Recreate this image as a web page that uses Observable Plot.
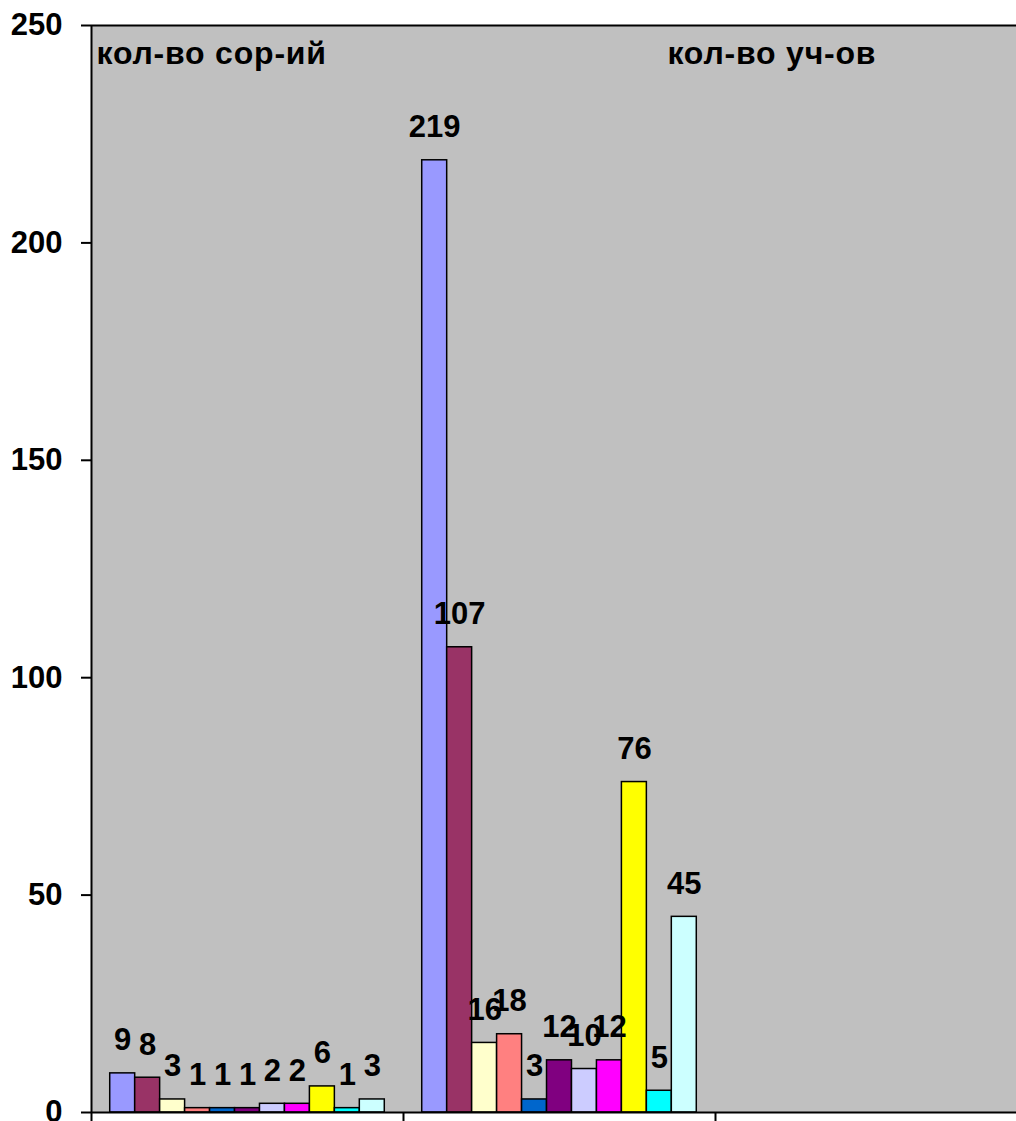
<!DOCTYPE html>
<html>
<head>
<meta charset="utf-8">
<script src="https://cdn.jsdelivr.net/npm/d3@7"></script>
<script src="https://cdn.jsdelivr.net/npm/@observablehq/plot@0.6"></script>
<style>
  html, body { margin: 0; padding: 0; background: #ffffff; overflow: hidden; }
  #chart svg { display: block; }
</style>
</head>
<body>
<div id="chart"></div>
<script>
// Groups (category slots on the x axis; the third is empty in the original)
const groups = ["кол-во сор-ий", "кол-во уч-ов", ""];
// Series (11 bars per group) and their colours
const series = ["1", "2", "3", "4", "5", "6", "7", "8", "9", "10", "11"];
const seriesColors = ["#9999FF", "#993366", "#FFFFCC", "#FF8080", "#0066CC", "#800080",
                      "#CCCCFF", "#FF00FF", "#FFFF00", "#00FFFF", "#CCFFFF"];
// Values per group
const valuesGroup1 = [9, 8, 3, 1, 1, 1, 2, 2, 6, 1, 3];
const valuesGroup2 = [219, 107, 16, 18, 3, 12, 10, 12, 76, 5, 45];
// Y tick labels
const yTicks = [0, 50, 100, 150, 200, 250];
// Text boxes in the plot area (x in category units)
const noteTexts = ["кол-во сор-ий", "кол-во уч-ов"];
const noteX = [0.016, 1.846];

// Excel-like clustered layout: gap width 150% => 0.75 bar on each side
const gap = 0.75;
const step = 1 / (series.length + 2 * gap);

const rows = [];
[valuesGroup1, valuesGroup2].forEach((vals, gi) => {
  vals.forEach((v, si) => {
    const x1 = gi + (gap + si) * step;
    rows.push({group: groups[gi], series: series[si], value: v, x1, x2: x1 + step, xm: x1 + step / 2});
  });
});
const notes = noteTexts.map((t, i) => ({text: t, x: noteX[i]}));

const font = "'Liberation Sans', Arial, sans-serif";

const chart = Plot.plot({
  width: 1016,
  height: 1121,
  marginTop: 25,
  marginBottom: 9,
  marginLeft: 91,
  marginRight: 0,
  style: {fontFamily: font, background: "#ffffff", overflow: "hidden"},
  x: {domain: [0, groups.length], range: [91, 91 + 312 * groups.length]},
  y: {domain: [0, 250]},
  color: {domain: series, range: seriesColors},
  marks: [
    Plot.frame({fill: "#C0C0C0", stroke: null}),
    Plot.rectY(rows, {x1: "x1", x2: "x2", y: "value", fill: "series", stroke: "black", strokeWidth: 1.5}),
    Plot.text(rows, {x: "xm", y: "value", text: d => String(d.value), dy: -33,
      fontSize: 31, fontWeight: "bold", fill: "black"}),
    Plot.text(notes, {x: "x", y: () => 250, text: "text", textAnchor: "start", dy: 28,
      fontSize: 32, fontWeight: "bold", fill: "black"}),
    Plot.ruleY([0], {stroke: "black", strokeWidth: 2}),
    Plot.ruleY([250], {stroke: "black", strokeWidth: 2}),
    Plot.ruleX([0], {stroke: "black", strokeWidth: 2}),
    Plot.axisY({ticks: yTicks, tickSize: 10, tickPadding: 19, tickFormat: d => String(d),
      fontSize: 31, fontWeight: "bold", stroke: "black", strokeWidth: 2, fill: "black", label: null}),
    Plot.axisX({ticks: [0, 1, 2], tickSize: 10, tickFormat: () => "", stroke: "black",
      strokeWidth: 2, label: null})
  ]
});
// slight letter spacing for the two text boxes
d3.select(chart).selectAll("text").filter(function() {
  return noteTexts.includes(this.textContent);
}).style("letter-spacing", "0.8px");
document.getElementById("chart").appendChild(chart);
</script>
</body>
</html>
